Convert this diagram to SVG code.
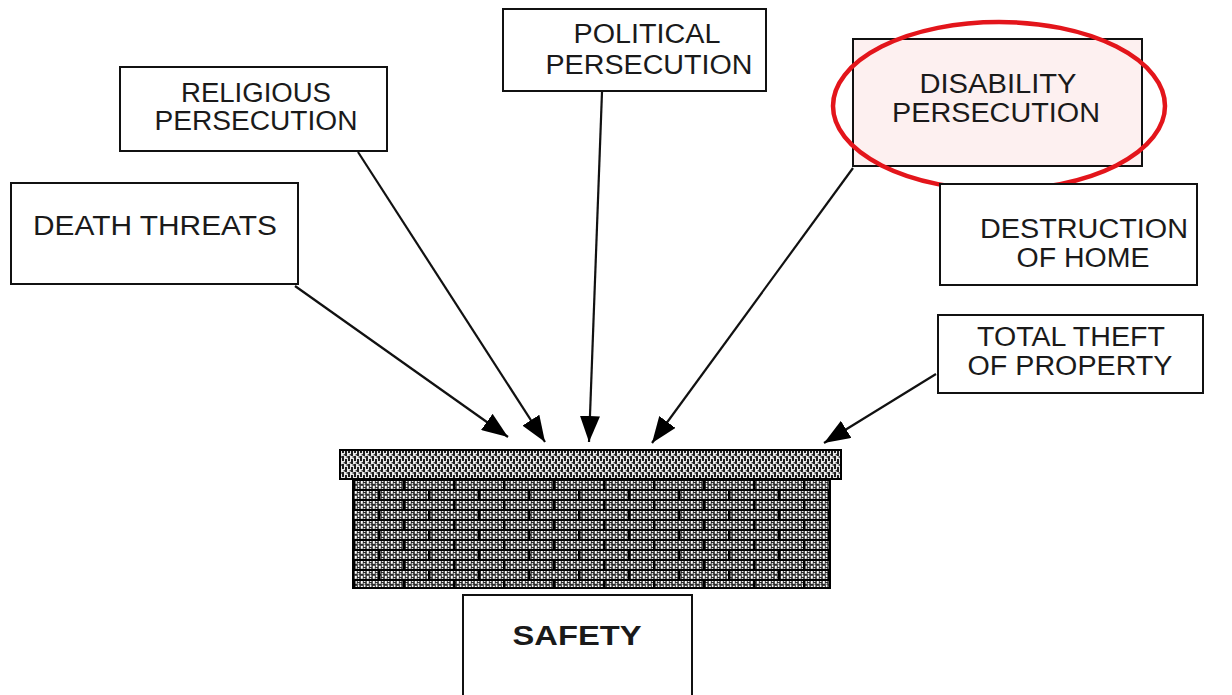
<svg xmlns="http://www.w3.org/2000/svg" width="1232" height="695" viewBox="0 0 1232 695">
<defs>
<style>
.box{fill:#fff;stroke:#111;stroke-width:2}
.t{font-family:"Liberation Sans",Arial,sans-serif;font-size:27px;fill:#1a1a1a;text-anchor:middle}
.b{font-weight:bold}
.c{stroke:#111;stroke-width:2.2;fill:none;marker-end:url(#ah)}
</style>
<marker id="ah" markerWidth="26" markerHeight="20" refX="26" refY="10" orient="auto" markerUnits="userSpaceOnUse">
<path d="M0,0 L26,10 L0,20 Z" fill="#000"/>
</marker>
<pattern id="tex" width="6" height="8" patternUnits="userSpaceOnUse">
<rect width="6" height="8" fill="#e8e8e8"/>
<rect x="0" y="0" width="2" height="5" fill="#1e1e1e"/>
<rect x="3" y="3" width="2" height="5" fill="#1e1e1e"/>
<rect x="1.6" y="6" width="1.4" height="1.5" fill="#444"/>
<rect x="4.6" y="0" width="1.2" height="2" fill="#444"/>
</pattern>
<pattern id="tex2" width="6" height="5" patternUnits="userSpaceOnUse">
<rect width="6" height="5" fill="#2a2a2a"/>
<rect x="0.8" y="0.8" width="2" height="3" fill="#fff"/>
<rect x="3.8" y="0" width="1.6" height="2" fill="#f0f0f0"/>
<rect x="3.6" y="3" width="1.6" height="1.6" fill="#e0e0e0"/>
</pattern>
<pattern id="brick" x="353" y="479" width="100" height="20" patternUnits="userSpaceOnUse">
<rect x="0" y="0" width="100" height="2" fill="#000"/>
<rect x="0" y="10" width="100" height="2" fill="#000"/>
<rect x="0" y="0" width="2.5" height="10" fill="#000"/>
<rect x="50" y="0" width="2.5" height="10" fill="#000"/>
<rect x="25" y="10" width="2.5" height="10" fill="#000"/>
<rect x="75" y="10" width="2.5" height="10" fill="#000"/>
</pattern>
</defs>
<rect width="1232" height="695" fill="#fff"/>

<g id="wall">
<rect x="340" y="450" width="501" height="29" fill="url(#tex)" stroke="#000" stroke-width="2"/>
<rect x="353" y="479" width="477" height="109" fill="url(#tex2)" stroke="#000" stroke-width="2"/>
<rect x="353" y="479" width="477" height="109" fill="url(#brick)"/>
</g>

<g id="connectors">
<path class="c" d="M295,286 L508,437"/>
<path class="c" d="M358,152 L545,442"/>
<path class="c" d="M602,92 L589,442"/>
<path class="c" d="M853,168 L652,443"/>
<path class="c" d="M936,374 L824,443"/>
</g>

<g id="religious">
<rect class="box" x="120" y="67" width="267" height="84"/>
<text class="t" x="256" y="102" textLength="150" lengthAdjust="spacingAndGlyphs">RELIGIOUS</text>
<text class="t" x="256" y="130" textLength="203" lengthAdjust="spacingAndGlyphs">PERSECUTION</text>
</g>

<g id="political">
<rect class="box" x="503" y="9" width="263" height="82"/>
<text class="t" x="647" y="43" textLength="147" lengthAdjust="spacingAndGlyphs">POLITICAL</text>
<text class="t" x="649" y="74" textLength="207" lengthAdjust="spacingAndGlyphs">PERSECUTION</text>
</g>

<g id="disability">
<rect x="853" y="39" width="289" height="127" fill="#fdf0f0" stroke="#111" stroke-width="2"/>
<text class="t" x="998" y="93" textLength="157" lengthAdjust="spacingAndGlyphs">DISABILITY</text>
<text class="t" x="996" y="122" textLength="208" lengthAdjust="spacingAndGlyphs">PERSECUTION</text>
<ellipse cx="999" cy="106" rx="166" ry="84" fill="none" stroke="#e3151b" stroke-width="4.5"/>
</g>

<g id="death">
<rect class="box" x="11" y="183" width="287" height="101"/>
<text class="t" x="155" y="235" textLength="244" lengthAdjust="spacingAndGlyphs">DEATH THREATS</text>
</g>

<g id="destruction">
<rect class="box" x="940" y="184" width="257" height="101"/>
<text class="t" x="1084" y="238" textLength="208" lengthAdjust="spacingAndGlyphs">DESTRUCTION</text>
<text class="t" x="1083" y="267" textLength="133" lengthAdjust="spacingAndGlyphs">OF HOME</text>
</g>

<g id="theft">
<rect class="box" x="938" y="315" width="265" height="78"/>
<text class="t" x="1071" y="346" textLength="188" lengthAdjust="spacingAndGlyphs">TOTAL THEFT</text>
<text class="t" x="1070" y="375" textLength="205" lengthAdjust="spacingAndGlyphs">OF PROPERTY</text>
</g>

<g id="safety">
<rect class="box" x="463" y="595" width="229" height="105"/>
<text class="t b" x="577" y="645" textLength="129" lengthAdjust="spacingAndGlyphs">SAFETY</text>
</g>
</svg>
